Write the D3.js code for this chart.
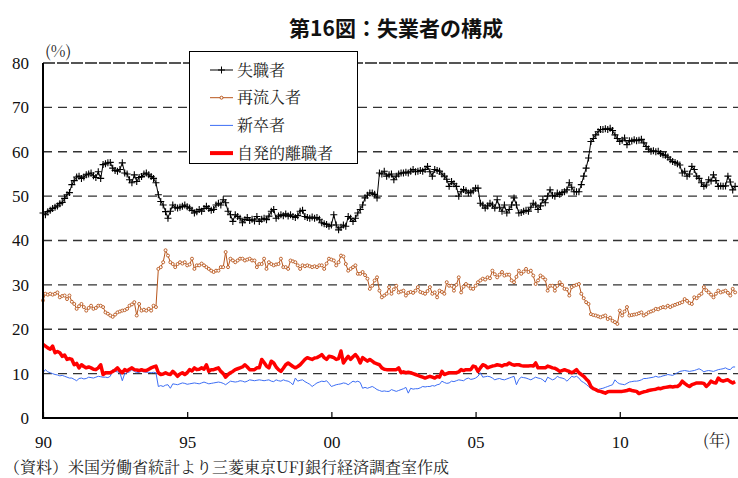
<!DOCTYPE html>
<html>
<head>
<meta charset="utf-8">
<script src="https://cdn.jsdelivr.net/npm/d3@7"></script>
<style>
  body { margin: 0; background: #fff; }
</style>
</head>
<body>
<script>
// monthly shares (%), Jan 1990 - Jan 2014, one row per year
var jobLosers = [
  46.2, 45.8, 46.5, 46.8, 47.2, 47.5, 47.8, 48.3, 48.6, 49.5, 50.3, 50.8,
  52.6, 53.5, 54.3, 54.5, 54.0, 54.3, 54.8, 55.0, 55.2, 54.6, 54.2, 55.5,
  54.0, 57.1, 57.3, 57.5, 57.6, 56.3, 55.8, 55.6, 56.0, 57.5, 55.2, 55.0,
  53.7, 53.0, 54.8, 53.3, 54.2, 54.4, 55.0, 55.2, 54.8, 54.4, 54.0, 53.0,
  50.3, 48.8, 48.0, 46.5, 45.0, 46.6, 48.0, 47.5, 47.3, 47.5, 47.7, 48.0,
  47.6, 47.3, 46.8, 46.2, 46.5, 47.0, 46.6, 47.2, 47.7, 47.2, 46.8, 47.0,
  48.0, 48.4, 48.0, 49.2, 48.5, 46.6, 45.8, 44.3, 45.8, 45.4, 45.0, 44.0,
  44.7, 45.2, 44.5, 44.8, 44.4, 45.4, 44.3, 44.8, 45.0, 44.7, 45.5, 46.6,
  47.0, 45.0, 45.5, 45.8, 45.6, 46.0, 45.5, 45.8, 45.4, 45.2, 45.6, 46.6,
  46.8, 45.4, 45.2, 45.0, 45.3, 45.0, 45.2, 44.8, 44.0, 43.8, 43.6, 43.2,
  43.5, 45.8, 43.5, 42.4, 43.0, 43.5, 43.2, 45.4, 45.0, 44.3, 45.0, 46.2,
  47.0, 48.0, 49.6, 50.2, 50.7, 50.7, 50.4, 49.6, 55.2, 55.0, 55.6, 54.5,
  54.8, 55.0, 53.7, 54.5, 55.0, 55.2, 55.2, 55.4, 55.2, 55.6, 56.0, 55.5,
  55.6, 55.8, 55.6, 56.0, 56.7, 55.5, 54.5, 56.0, 55.8, 55.6, 55.0, 54.5,
  53.8, 52.2, 53.3, 52.8, 52.2, 50.0, 51.0, 51.5, 51.2, 50.7, 50.9, 51.2,
  51.8, 51.8, 48.4, 48.0, 47.3, 47.8, 48.4, 48.0, 47.3, 49.2, 47.5, 46.6,
  48.0, 46.2, 47.0, 48.0, 49.6, 48.0, 46.2, 46.3, 46.6, 46.8, 46.6, 47.5,
  48.4, 48.0, 47.0, 47.8, 49.2, 48.5, 50.0, 51.4, 50.2, 50.0, 50.7, 50.4,
  50.8, 51.0, 51.4, 53.0, 52.0, 51.0, 51.0, 51.0, 52.6, 54.5, 56.3, 58.6,
  62.3, 63.0, 63.8, 64.5, 65.0, 65.0, 65.2, 65.0, 65.3, 64.8, 63.8, 63.0,
  62.3, 62.6, 63.1, 61.6, 62.5, 62.4, 62.7, 62.5, 62.6, 62.8, 62.0, 61.2,
  60.6, 60.1, 60.2, 60.0, 60.1, 59.6, 59.3, 59.2, 58.8, 58.2, 57.8, 57.6,
  57.3, 57.0, 55.2, 55.6, 54.5, 55.0, 56.7, 56.0, 54.5, 54.0, 53.0, 52.2,
  52.5, 53.7, 53.4, 54.8, 53.5, 52.2, 52.3, 52.2, 52.3, 54.5, 53.2, 51.4,
  52.2
];

var reentrants = [
  26.5, 28.0, 27.8, 28.0, 27.8, 28.0, 28.3, 27.2, 27.5, 27.6, 26.8, 27.6,
  26.2, 25.7, 24.6, 25.2, 25.7, 25.0, 24.2, 24.8, 25.3, 24.6, 24.8, 25.3,
  25.3, 25.0, 23.8, 23.5, 23.1, 22.8, 23.3, 23.8, 24.0, 24.2, 24.3, 24.6,
  25.3, 25.6, 26.1, 23.1, 25.7, 24.2, 24.4, 24.2, 24.6, 24.2, 25.3, 25.0,
  33.6, 34.0, 35.1, 37.8, 36.6, 35.1, 34.7, 34.0, 34.7, 35.1, 34.8, 35.1,
  34.4, 34.6, 35.9, 33.6, 34.4, 34.4, 34.8, 34.4, 34.0, 33.6, 33.2, 32.9,
  33.2, 33.2, 34.0, 34.0, 37.4, 34.0, 35.9, 35.5, 35.1, 35.5, 35.9, 35.9,
  35.5, 35.7, 35.9, 35.5, 35.5, 34.0, 34.7, 34.7, 35.9, 33.6, 35.1, 34.7,
  34.4, 34.6, 34.7, 35.9, 34.0, 34.0, 33.6, 35.5, 35.3, 35.1, 34.4, 33.6,
  34.4, 34.2, 34.4, 34.2, 34.0, 34.2, 34.0, 34.4, 34.4, 33.6, 34.8, 35.9,
  35.7, 35.5, 34.4, 35.1, 36.6, 36.4, 34.7, 33.2, 33.6, 34.0, 34.4, 32.5,
  32.5, 32.9, 32.2, 31.4, 29.1, 29.8, 31.0, 31.7, 28.7, 27.2, 27.6, 28.0,
  29.5, 28.0, 29.0, 29.8, 28.3, 28.5, 28.7, 27.6, 28.2, 28.4, 28.2, 28.7,
  29.5, 28.4, 28.2, 28.0, 28.6, 29.5, 28.0, 28.3, 27.2, 28.7, 28.4, 28.0,
  30.6, 29.8, 29.8, 28.7, 30.0, 31.7, 28.3, 29.6, 30.2, 29.8, 29.2, 29.1,
  29.8, 30.6, 31.0, 31.4, 31.2, 31.7, 31.5, 33.2, 32.4, 31.7, 32.3, 32.9,
  32.1, 32.3, 32.3, 31.0, 30.6, 31.8, 33.2, 32.5, 33.0, 33.6, 32.9, 33.2,
  32.1, 30.2, 31.0, 32.1, 31.7, 31.2, 28.7, 29.8, 29.8, 28.7, 29.8, 30.6,
  30.0, 29.1, 29.0, 27.6, 29.5, 29.8, 30.0, 30.2, 28.0, 27.0, 26.1, 25.7,
  23.4, 23.2, 23.1, 22.9, 22.7, 22.9, 23.1, 22.3, 22.6, 21.9, 21.6, 21.2,
  24.2, 23.1, 24.0, 25.0, 23.1, 23.2, 23.3, 23.4, 23.6, 23.8, 23.1, 23.4,
  23.8, 24.0, 24.2, 24.6, 24.5, 24.8, 25.0, 24.9, 25.3, 25.0, 25.3, 25.5,
  25.7, 25.9, 26.1, 26.8, 26.4, 25.9, 25.7, 27.2, 27.0, 27.6, 28.0, 29.5,
  28.8, 28.3, 27.8, 27.2, 28.0, 28.7, 28.3, 28.5, 28.7, 28.2, 27.6, 29.1,
  28.3
];

var newEntrants = [
  10.2, 10.9, 10.4, 10.2, 10.0, 9.8, 9.7, 9.5, 9.6, 9.4, 9.2, 9.0,
  9.0, 8.7, 8.4, 8.9, 9.0, 8.8, 8.9, 9.2, 9.1, 9.0, 9.2, 9.4,
  9.3, 9.2, 9.2, 9.1, 9.4, 10.9, 10.5, 10.4, 10.2, 8.4, 10.0, 10.2,
  10.4, 10.9, 10.5, 10.2, 10.3, 10.5, 10.4, 10.3, 10.3, 10.2, 10.3, 10.2,
  7.1, 7.3, 7.1, 7.4, 7.5, 6.7, 7.7, 7.6, 7.5, 7.7, 7.9, 7.8,
  7.6, 7.7, 7.8, 7.9, 7.8, 7.7, 7.9, 8.1, 7.9, 7.7, 7.8, 7.9,
  8.0, 8.1, 8.0, 7.8, 7.5, 7.9, 8.3, 8.2, 8.1, 8.2, 8.4, 8.3,
  8.1, 8.3, 8.6, 8.5, 8.4, 8.5, 8.6, 8.5, 8.4, 8.5, 8.6, 8.3,
  8.2, 8.6, 8.4, 8.3, 8.6, 8.4, 8.3, 8.0, 7.5, 9.0, 8.3, 8.5,
  8.6, 8.2, 7.9, 7.6, 7.1, 7.5, 7.9, 8.1, 8.3, 8.2, 8.4, 7.8,
  7.1, 7.3, 7.5, 7.6, 7.7, 7.9, 7.8, 7.5, 7.9, 8.3, 8.1, 8.3,
  8.0, 6.7, 6.9, 6.7, 6.9, 7.1, 6.8, 6.4, 6.2, 6.0, 6.1, 6.0,
  6.0, 6.4, 6.2, 6.0, 6.2, 6.4, 6.6, 6.9, 5.6, 6.7, 6.5, 6.6,
  6.6, 6.8, 7.1, 7.0, 7.1, 7.1, 7.3, 7.2, 7.5, 7.6, 8.3, 8.0,
  7.8, 7.9, 8.3, 8.2, 8.4, 8.6, 8.5, 8.4, 8.8, 9.0, 8.7, 8.8,
  9.0, 9.4, 10.2, 9.2, 9.3, 9.4, 9.3, 9.0, 8.6, 8.8, 8.9, 8.7,
  8.6, 8.8, 9.0, 9.2, 9.4, 7.5, 8.7, 9.2, 9.1, 9.0, 8.8, 8.6,
  8.9, 9.2, 9.0, 8.9, 8.6, 8.1, 9.2, 8.9, 8.6, 8.8, 9.4, 9.1,
  9.0, 8.8, 8.3, 8.8, 9.4, 9.2, 9.4, 9.0, 8.3, 8.0, 7.6, 7.1,
  6.6, 6.6, 6.5, 6.4, 6.6, 6.7, 6.9, 7.1, 7.3, 7.5, 8.6, 8.0,
  7.7, 7.6, 7.5, 7.8, 8.1, 8.2, 8.3, 8.3, 8.4, 8.6, 8.9, 8.9,
  9.0, 9.1, 9.2, 9.4, 9.2, 9.3, 9.5, 9.6, 9.8, 9.7, 9.6, 9.9,
  10.2, 10.5, 10.6, 10.7, 10.6, 10.5, 10.6, 10.7, 10.9, 11.1, 10.8, 10.4,
  10.6, 10.7, 10.6, 10.5, 10.7, 10.9, 11.0, 11.1, 11.3, 11.0, 10.9, 11.5,
  11.5
];

var jobLeavers = [
  16.6, 16.2, 15.8, 15.5, 16.2, 14.7, 15.0, 14.7, 13.9, 14.2, 13.2, 13.4,
  13.2, 12.0, 12.3, 11.3, 12.0, 11.6, 11.3, 11.5, 11.3, 11.0, 10.9, 11.3,
  12.0, 9.8, 10.2, 10.2, 10.2, 10.5, 10.8, 11.3, 10.6, 10.2, 10.9, 10.6,
  11.0, 11.3, 10.9, 10.8, 10.7, 10.9, 10.7, 10.7, 11.0, 11.3, 11.5, 11.7,
  10.2, 9.8, 9.9, 10.2, 9.9, 9.8, 10.5, 10.0, 9.4, 9.9, 10.2, 9.8,
  10.2, 10.9, 10.6, 11.3, 10.9, 11.0, 11.3, 11.0, 12.0, 10.5, 10.9, 10.9,
  11.1, 11.3, 10.5, 10.0, 9.2, 9.8, 10.2, 10.5, 10.9, 11.1, 11.3, 11.5,
  12.0, 11.5, 10.9, 10.9, 10.9, 11.3, 11.3, 13.2, 12.5, 11.7, 11.3, 12.8,
  12.4, 11.5, 10.9, 10.5, 11.2, 12.0, 12.4, 12.0, 11.6, 11.3, 11.6, 12.0,
  12.6, 13.2, 13.6, 13.4, 13.2, 13.5, 13.6, 13.9, 14.3, 13.6, 13.2, 13.9,
  13.8, 13.6, 13.2, 13.4, 15.1, 12.4, 13.2, 13.9, 13.2, 13.8, 14.3, 13.6,
  12.4, 13.6, 13.2, 12.8, 13.2, 12.8, 12.4, 12.2, 12.0, 11.3, 11.0, 10.9,
  10.9, 10.9, 10.9, 10.9, 11.3, 10.2, 10.4, 10.2, 10.3, 10.2, 10.0, 9.8,
  9.6, 9.4, 9.2, 9.0, 9.2, 9.4, 9.2, 9.0, 9.4, 9.2, 10.5, 9.8,
  10.0, 10.2, 10.2, 10.2, 10.2, 10.4, 10.9, 10.7, 10.9, 10.9, 10.9, 11.7,
  11.5, 10.5, 11.3, 12.0, 11.8, 11.3, 11.5, 11.7, 11.8, 12.0, 11.9, 11.7,
  12.0, 12.0, 12.4, 12.1, 11.9, 12.0, 12.0, 11.8, 11.7, 11.7, 11.7, 11.8,
  11.7, 12.4, 11.3, 11.3, 11.3, 11.3, 11.7, 11.5, 11.3, 11.2, 10.9, 10.5,
  10.7, 10.9, 10.7, 10.5, 10.2, 10.5, 10.9, 10.2, 9.8, 9.4, 8.8, 8.3,
  7.1, 6.6, 6.4, 6.1, 6.0, 5.8, 5.6, 5.9, 6.0, 6.0, 6.0, 6.0,
  6.0, 6.0, 6.1, 6.2, 6.4, 6.2, 6.1, 6.0, 5.5, 5.7, 5.9, 6.0,
  6.2, 6.3, 6.4, 6.5, 6.7, 6.6, 6.8, 6.9, 7.0, 7.1, 7.0, 7.1,
  7.1, 7.5, 8.3, 7.8, 7.4, 7.1, 7.5, 7.7, 7.9, 7.9, 7.9, 7.8,
  7.1, 7.6, 8.3, 8.0, 7.9, 9.0, 8.5, 8.3, 8.5, 8.6, 8.2, 7.9,
  8.2
];

var seriesNames = ['失職者', '再流入者', '新卒者', '自発的離職者'];
var yTicks = [0, 10, 20, 30, 40, 50, 60, 70, 80];
var xTicks = [1990, 1995, 2000, 2005, 2010];
var xTickLabels = ['90', '95', '00', '05', '10'];
var startYear = 1990;

var width = 738,
    height = 478;

var serifFont = "'Liberation Serif', serif";
var minchoFont = "'Noto Serif CJK JP', serif";
var gothicFont = "'Noto Sans CJK JP', sans-serif";

var svg = d3.select('body')
  .append('svg')
  .attr('width', width)
  .attr('height', height);

// scales: month index -> decimal year
var x = d3.scaleLinear()
  .domain([1990, 2014.1])
  .range([43, 738]);

var y = d3.scaleLinear()
  .domain([0, 80])
  .range([418, 63]);

function toPoints(values) {
  return values.map(function(v, i) {
    return { t: startYear + i / 12, v: v };
  });
}

var line = d3.line()
  .x(function(d) { return x(d.t); })
  .y(function(d) { return y(d.v); });

// title
svg.append('text')
  .attr('x', 396)
  .attr('y', 36)
  .attr('text-anchor', 'middle')
  .attr('font-family', gothicFont)
  .attr('font-size', 21)
  .attr('font-weight', 'bold')
  .attr('fill', '#111')
  .text('第16図：失業者の構成');

// gridlines
svg.append('g')
  .selectAll('line')
  .data(yTicks.filter(function(d) { return d > 0; }))
  .enter()
  .append('line')
  .attr('x1', x(1990))
  .attr('x2', width)
  .attr('y1', function(d) { return y(d); })
  .attr('y2', function(d) { return y(d); })
  .attr('stroke', function(d) { return d === 80 ? '#555' : '#333'; })
  .attr('stroke-width', function(d) { return d === 80 ? 2 : 1.3; })
  .attr('stroke-dasharray', function(d) { return d === 80 ? '12,2' : '9,6'; });

// y axis labels
var yAxis = d3.axisLeft(y)
  .tickValues(yTicks)
  .tickSize(0)
  .tickPadding(14);

var gy = svg.append('g')
  .attr('transform', 'translate(' + x(1990) + ',0)')
  .call(yAxis)
  .attr('font-family', serifFont)
  .attr('font-size', 17);

gy.select('.domain').remove();
gy.selectAll('text').attr('fill', '#111');

// x axis with inward ticks
var xAxis = d3.axisBottom(x)
  .tickValues(xTicks)
  .tickFormat(function(d, i) { return xTickLabels[i]; })
  .tickSizeInner(-6)
  .tickSizeOuter(0)
  .tickPadding(18);

var gx = svg.append('g')
  .attr('transform', 'translate(0,' + y(0) + ')')
  .call(xAxis)
  .attr('font-family', serifFont)
  .attr('font-size', 17);

gx.select('.domain').remove();
gx.selectAll('.tick line').attr('stroke', '#000').attr('stroke-width', 1.2);
gx.selectAll('text').attr('fill', '#111');

// series lines
var blueColor = '#3d6ef5',
    redColor = '#ff0000',
    orangeColor = '#b8561c',
    blackColor = '#000';

svg.append('path')
  .datum(toPoints(newEntrants))
  .attr('d', line)
  .attr('fill', 'none')
  .attr('stroke', blueColor)
  .attr('stroke-width', 1);

svg.append('path')
  .datum(toPoints(jobLeavers))
  .attr('d', line)
  .attr('fill', 'none')
  .attr('stroke', redColor)
  .attr('stroke-width', 3.5)
  .attr('stroke-linejoin', 'round');

svg.append('path')
  .datum(toPoints(reentrants))
  .attr('d', line)
  .attr('fill', 'none')
  .attr('stroke', orangeColor)
  .attr('stroke-width', 1);

svg.append('g')
  .selectAll('circle')
  .data(toPoints(reentrants))
  .enter()
  .append('circle')
  .attr('cx', function(d) { return x(d.t); })
  .attr('cy', function(d) { return y(d.v); })
  .attr('r', 1.5)
  .attr('fill', '#fff')
  .attr('stroke', orangeColor)
  .attr('stroke-width', 0.9);

svg.append('path')
  .datum(toPoints(jobLosers))
  .attr('d', line)
  .attr('fill', 'none')
  .attr('stroke', blackColor)
  .attr('stroke-width', 1);

// "+" markers for job losers
svg.append('g')
  .selectAll('path')
  .data(toPoints(jobLosers))
  .enter()
  .append('path')
  .attr('d', function(d) {
    var px = x(d.t), py = y(d.v);
    return 'M' + (px - 3.5) + ',' + py + 'H' + (px + 3.5) +
           'M' + px + ',' + (py - 3.5) + 'V' + (py + 3.5);
  })
  .attr('stroke', blackColor)
  .attr('stroke-width', 1.1);

// axis lines
svg.append('line')
  .attr('x1', x(1990)).attr('x2', x(1990))
  .attr('y1', y(80)).attr('y2', y(0) + 1)
  .attr('stroke', '#000').attr('stroke-width', 2);

svg.append('line')
  .attr('x1', x(1990) - 1).attr('x2', width)
  .attr('y1', y(0)).attr('y2', y(0))
  .attr('stroke', '#000').attr('stroke-width', 2);

// unit labels
svg.append('text')
  .attr('x', 45)
  .attr('y', 57)
  .attr('font-family', minchoFont)
  .attr('font-size', 16)
  .attr('fill', '#222')
  .text('(%)');

svg.append('text')
  .attr('x', 703)
  .attr('y', 446)
  .attr('font-family', minchoFont)
  .attr('font-size', 16)
  .attr('fill', '#222')
  .text('(年)');

// source note
svg.append('text')
  .attr('x', 4)
  .attr('y', 473)
  .attr('font-family', minchoFont)
  .attr('font-size', 16)
  .attr('fill', '#222')
  .text('（資料）米国労働省統計より三菱東京UFJ銀行経済調査室作成');

// legend
var legend = svg.append('g')
  .attr('transform', 'translate(189,51)');

legend.append('rect')
  .attr('x', 0.5)
  .attr('y', 0.5)
  .attr('width', 168)
  .attr('height', 112)
  .attr('fill', '#fff')
  .attr('stroke', '#000')
  .attr('stroke-width', 1);

var legendStyles = [
  { color: blackColor, width: 1, marker: 'plus' },
  { color: orangeColor, width: 1, marker: 'circle' },
  { color: blueColor, width: 1, marker: null },
  { color: redColor, width: 4, marker: null }
];

var rows = legend.selectAll('.row')
  .data(seriesNames)
  .enter()
  .append('g')
  .attr('class', 'row')
  .attr('transform', function(d, i) { return 'translate(0,' + (19 + i * 27.7) + ')'; });

rows.append('line')
  .attr('x1', 21)
  .attr('x2', 44)
  .attr('y1', 0)
  .attr('y2', 0)
  .attr('stroke', function(d, i) { return legendStyles[i].color; })
  .attr('stroke-width', function(d, i) { return legendStyles[i].width; });

rows.filter(function(d, i) { return legendStyles[i].marker === 'plus'; })
  .append('path')
  .attr('d', 'M29,0H36M32.5,-3.5V3.5')
  .attr('stroke', blackColor)
  .attr('stroke-width', 1);

rows.filter(function(d, i) { return legendStyles[i].marker === 'circle'; })
  .append('circle')
  .attr('cx', 32.5)
  .attr('cy', 0)
  .attr('r', 1.5)
  .attr('fill', '#fff')
  .attr('stroke', orangeColor);

rows.append('text')
  .attr('x', 48)
  .attr('y', 0)
  .attr('dy', '0.36em')
  .attr('font-family', minchoFont)
  .attr('font-size', 16)
  .attr('fill', '#222')
  .text(function(d) { return d; });
</script>
</body>
</html>
